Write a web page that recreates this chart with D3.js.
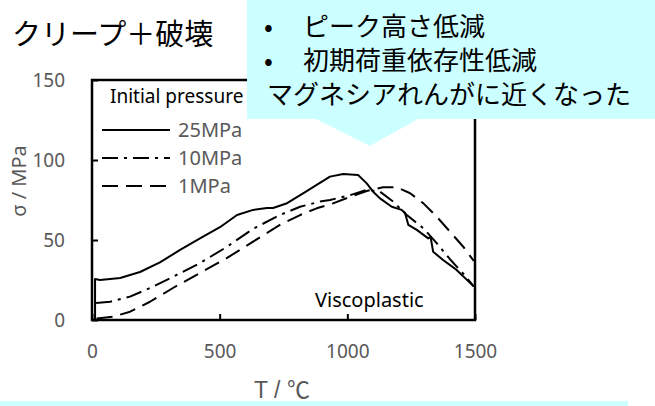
<!DOCTYPE html>
<html>
<head>
<meta charset="utf-8">
<script src="https://cdn.jsdelivr.net/npm/d3@7/dist/d3.min.js"></script>
<style>
  body { margin: 0; background: #fff; }
  svg { display: block; }
</style>
</head>
<body>
<div id="chart"></div>
<script>
// Data: T (°C) and sigma (MPa) for each initial pressure
var t25 = [12, 12, 31, 71, 110, 188, 266, 345, 423, 501, 568, 631, 685, 709, 764, 830, 880, 932, 984, 1042, 1076, 1101, 1128, 1174, 1213, 1226, 1239, 1272, 1317, 1326, 1336, 1375, 1428, 1495];
var s25 = [0, 25.6, 25, 25.6, 26.3, 30, 36, 43.8, 51, 58, 65.6, 68.8, 70, 70, 73, 79.5, 84.5, 89.6, 91.3, 90.6, 85.4, 80.2, 76, 70.8, 68.8, 66.9, 59.4, 56.3, 51, 52, 42.7, 37.5, 31.3, 21];

var t10 = [16, 71, 149, 227, 317, 423, 529, 631, 736, 815, 893, 932, 1011, 1076, 1128, 1179, 1233, 1298, 1350, 1402, 1454, 1495];
var s10 = [10.6, 11.4, 14.6, 20, 27, 35.6, 45.8, 57, 65.6, 70.8, 74, 75, 78, 81.3, 80.2, 74, 65.6, 57.3, 48, 38, 29, 21];

var t1 = [18, 82, 149, 227, 317, 423, 529, 631, 736, 815, 880, 944, 1011, 1076, 1140, 1194, 1246, 1298, 1350, 1402, 1454, 1495];
var s1 = [1, 2, 5.2, 11.4, 20, 29.4, 38.8, 49, 59.4, 65.6, 69.8, 72.9, 77, 80.6, 83, 83, 79.2, 72.9, 64.6, 55.2, 45.8, 37];

var seriesNames = ['25MPa', '10MPa', '1MPa'];
var xTicks = [0, 500, 1000, 1500];
var yTicks = [0, 50, 100, 150];
var noteLines = ['ピーク高さ低減', '初期荷重依存性低減', 'マグネシアれんがに近くなった'];

var dashes = { '25MPa': null, '10MPa': '16,6,3,6', '1MPa': '16,8' };
var cyan = '#ccffff';
var gray = '#595959';
var latin = "'Noto Sans', 'Liberation Sans', sans-serif";
var cjk = "'Noto Sans CJK JP', sans-serif";

var W = 655, H = 406;
var margin = { top: 80, left: 92, right: 180, bottom: 86 };
var width = W - margin.left - margin.right;
var height = H - margin.top - margin.bottom;

var svg = d3.select('#chart').append('svg')
    .attr('width', W)
    .attr('height', H);

var g = svg.append('g')
    .attr('transform', 'translate(' + margin.left + ',' + margin.top + ')');

var x = d3.scaleLinear().domain([0, 1500]).range([0, width]);
var y = d3.scaleLinear().domain([0, 150]).range([height, 0]);

// axes with inward ticks
var xAxis = g.append('g')
    .attr('transform', 'translate(0,' + height + ')')
    .call(d3.axisBottom(x).tickValues(xTicks).tickFormat(d3.format('d')).tickSize(-6).tickPadding(25));
var yAxis = g.append('g')
    .call(d3.axisLeft(y).tickValues(yTicks).tickFormat(d3.format('d')).tickSize(-6).tickPadding(27));

[xAxis, yAxis].forEach(function (a) {
    a.select('.domain').remove();
    a.selectAll('line').attr('stroke', '#000').attr('stroke-width', 2);
    a.selectAll('text')
        .style('font-family', latin)
        .style('font-size', '19px')
        .attr('fill', gray);
});

g.append('rect')
    .attr('width', width)
    .attr('height', height)
    .attr('fill', 'none')
    .attr('stroke', '#000')
    .attr('stroke-width', 2.5);

// curves
var line = d3.line()
    .x(function (d) { return x(d[0]); })
    .y(function (d) { return y(d[1]); });

var series = [
    { name: '25MPa', pts: d3.zip(t25, s25) },
    { name: '10MPa', pts: d3.zip(t10, s10) },
    { name: '1MPa', pts: d3.zip(t1, s1) }
];

g.selectAll('path.curve').data(series).enter()
    .append('path')
    .attr('class', 'curve')
    .attr('d', function (d) { return line(d.pts); })
    .attr('fill', 'none')
    .attr('stroke', '#000')
    .attr('stroke-width', 2)
    .attr('stroke-linejoin', 'round')
    .attr('stroke-dasharray', function (d) { return dashes[d.name]; });

// legend
g.append('text')
    .attr('x', 18)
    .attr('y', 23)
    .style('font-family', latin)
    .style('font-size', '19px')
    .attr('fill', '#000')
    .text('Initial pressure');

var leg = g.selectAll('g.leg').data(seriesNames).enter()
    .append('g')
    .attr('class', 'leg')
    .attr('transform', function (d, i) { return 'translate(10,' + (50 + i * 28) + ')'; });

leg.append('line')
    .attr('x1', 0).attr('x2', 68)
    .attr('stroke', '#000')
    .attr('stroke-width', 2)
    .attr('stroke-dasharray', function (d) { return dashes[d]; });

leg.append('text')
    .attr('x', 76)
    .attr('dy', '0.36em')
    .style('font-family', latin)
    .style('font-size', '20px')
    .attr('fill', gray)
    .text(function (d) { return d; });

g.append('text')
    .attr('x', 223)
    .attr('y', 227)
    .style('font-family', latin)
    .style('font-size', '20px')
    .attr('fill', '#000')
    .text('Viscoplastic');

// axis titles
svg.append('text')
    .attr('transform', 'translate(26,181) rotate(-90)')
    .attr('text-anchor', 'middle')
    .style('font-family', latin)
    .style('font-size', '20px')
    .attr('fill', gray)
    .text('σ / MPa');

svg.append('text')
    .attr('x', 282)
    .attr('y', 398)
    .attr('text-anchor', 'middle')
    .style('font-family', "'Liberation Sans', 'Noto Sans CJK JP', sans-serif")
    .style('font-size', '23px')
    .attr('fill', gray)
    .text('T / ℃');

// title
svg.append('text')
    .attr('x', 12)
    .attr('y', 45)
    .style('font-family', cjk)
    .style('font-size', '29px')
    .attr('fill', '#000')
    .text('クリープ＋破壊');

// callout box
svg.append('path')
    .attr('d', 'M247,0H655V119H418L370,146L316,119H247Z')
    .attr('fill', cyan);

var notes = svg.append('g');
noteLines.forEach(function (s, i) {
    var yy = 36 + i * 34;
    if (i < 2) {
        notes.append('text')
            .attr('x', 264).attr('y', yy)
            .style('font-family', cjk)
            .style('font-size', '26px')
            .text('•');
        notes.append('text')
            .attr('x', 303).attr('y', yy)
            .style('font-family', cjk)
            .style('font-size', '26px')
            .text(s);
    } else {
        notes.append('text')
            .attr('x', 267).attr('y', yy)
            .style('font-family', cjk)
            .style('font-size', '26px')
            .text(s);
    }
});

// bottom strip
svg.append('rect')
    .attr('x', 0).attr('y', 401)
    .attr('width', 628).attr('height', 5)
    .attr('fill', cyan);
</script>
</body>
</html>
